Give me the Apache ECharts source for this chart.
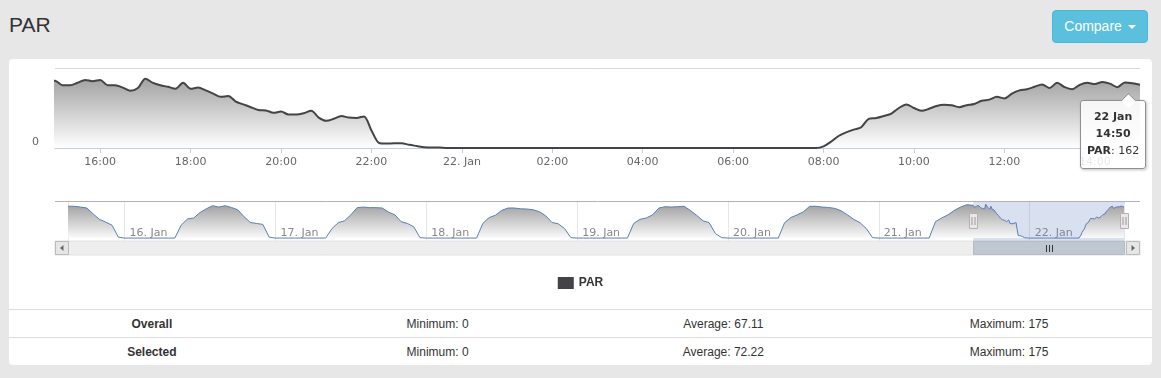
<!DOCTYPE html>
<html>
<head>
<meta charset="utf-8">
<script src="https://cdn.jsdelivr.net/npm/echarts@6/dist/echarts.min.js"></script>
<style>
  html, body { margin:0; padding:0; }
  body { width:1161px; height:378px; background:#e7e7e7; position:relative; overflow:hidden;
         font-family:"Liberation Sans", Arial, sans-serif; color:#333; }
  #title { position:absolute; left:9px; top:14px; font-size:21px; line-height:21px; color:#333; }
  #btn { position:absolute; left:1052px; top:10px; width:96px; height:33px; box-sizing:border-box;
         background:#5bc0de; border:1px solid #46b8da; border-radius:4px; color:#fff;
         font-size:14px; line-height:31px; text-align:center; }
  .caret { display:inline-block; width:0; height:0; vertical-align:middle; margin-left:2px;
           border-top:4px solid #fff; border-left:4px solid transparent; border-right:4px solid transparent; }
  #panel { position:absolute; left:9px; top:59px; width:1143px; height:306px; background:#fff; border-radius:4px; }
  #stats { position:absolute; left:0; top:250px; width:1143px; border-collapse:collapse; font-size:12px; color:#333; }
  #stats td { height:27px; border-top:1px solid #dddddd; text-align:center; width:25%; padding:0; }
  #stats td.lbl { font-weight:bold; }
  #chart { position:absolute; left:0; top:0; width:1161px; height:300px; }
</style>
</head>
<body>
<div id="title">PAR</div>
<div id="btn">Compare <span class="caret"></span></div>
<div id="panel"><table id="stats"></table></div>
<div id="chart"></div>
<script>
// ---------- data ----------
const monthNames = ['Jan','Feb','Mar','Apr','May','Jun','Jul','Aug','Sep','Oct','Nov','Dec'];
// navigator (hourly) values: 15 Jan 15:00 -> 21 Jan 14:00
const navStart = [2016, 0, 15, 15, 0];
const navStepMinutes = 60;
const navValues = [
  163,163,159,154,124,96,82,66,5,
  0,0,0,0,0,0,0,0,0,66,98,103,131,150,166,159,166,157,145,110,80,75,70,5,
  0,0,0,0,0,0,0,0,0,49,79,89,119,156,159,156,156,154,133,119,84,75,58,2,
  0,0,0,0,0,0,0,0,0,75,105,117,142,154,154,150,149,145,135,114,80,73,49,2,
  0,0,0,0,0,0,0,0,0,75,96,103,119,154,161,159,161,163,142,117,89,79,23,2,
  0,0,0,0,0,0,0,0,0,79,105,119,135,163,163,159,157,152,140,119,96,79,49,2,
  0,0,0,0,0,0,0,0,0,84,103,119,142,159,171
];
// detailed (10-minute) values: 21 Jan 15:00 -> 22 Jan 15:00
const detailStart = [2016, 0, 21, 15, 0];
const detailStepMinutes = 10;
const detailValues = [
  168,157,157,163,170,167,170,157,157,151,
  143,150,173,163,157,153,148,163,148,151,
  144,136,128,130,116,109,102,95,94,88,
  91,84,84,87,93,76,68,73,80,76,
  75,79,44,13,11,12,12,8,5,2,
  1,1,
  0,0,0,0,0,0,0,0,0,0, 0,0,0,0,0,0,0,0,0,0, 0,0,0,0,0,0,0,0,0,0,
  0,0,0,0,0,0,0,0,0,0, 0,0,0,0,0,0,0,0,0,0,
  4,16,30,39,46,52,73,75,
  80,86,100,109,100,93,98,105,108,107,
  102,107,110,118,121,128,124,136,144,147,
  153,159,150,163,152,147,158,163,160,165,
  161,152,164,162,158
];
const seriesName = 'PAR';
const yMax = 200;
const mainTickHours = 2;
const tooltipTime = [2016, 0, 22, 14, 50];
const statsRows = [
  ['Overall',  'Minimum: 0', 'Average: 67.11', 'Maximum: 175'],
  ['Selected', 'Minimum: 0', 'Average: 72.22', 'Maximum: 175']
];

// ---------- build ----------
function toTime(a) { return new Date(a[0], a[1], a[2], a[3], a[4]).getTime(); }
function pairs(start, stepMin, vals) {
  const t0 = toTime(start);
  return vals.map((v, i) => [t0 + i * stepMin * 60000, v]);
}
const allData = pairs(navStart, navStepMinutes, navValues)
  .concat(pairs(detailStart, detailStepMinutes, detailValues));
const windowStart = toTime(detailStart);
const windowEnd = allData[allData.length - 1][0];
const tipT = toTime(tooltipTime);
const tipIndex = allData.findIndex(d => d[0] === tipT);

// even-hour tick values inside the visible window
const mainTicks = [];
for (let t = windowStart; t <= windowEnd; t += 3600000) {
  const d = new Date(t);
  if (d.getMinutes() === 0 && d.getHours() % mainTickHours === 0 && t > windowStart && t < windowEnd) mainTicks.push(t);
}

const pad2 = n => (n < 10 ? '0' : '') + n;
function mainLabel(v) {
  const d = new Date(v);
  if (d.getHours() === 0 && d.getMinutes() === 0) return d.getDate() + '. ' + monthNames[d.getMonth()];
  return pad2(d.getHours()) + ':' + pad2(d.getMinutes());
}
function navLabel(v) {
  const d = new Date(v);
  return d.getDate() + '. ' + monthNames[d.getMonth()];
}

const tbl = document.getElementById('stats');
statsRows.forEach(r => {
  const tr = document.createElement('tr');
  r.forEach((c, i) => {
    const td = document.createElement('td');
    td.textContent = c;
    if (i === 0) td.className = 'lbl';
    tr.appendChild(td);
  });
  tbl.appendChild(tr);
});

const chart = echarts.init(document.getElementById('chart'), null, { renderer: 'canvas' });
const axisFont = 'DejaVu Sans';

const option = {
  animation: false,
  backgroundColor: 'transparent',
  grid: [
    { left: 55, right: 21, top: 68, height: 80, containLabel: false, outerBoundsMode: 'none' },
    { left: 68, right: 37, top: 201, height: 40, containLabel: false, outerBoundsMode: 'none' }
  ],
  xAxis: [
    {
      type: 'value', gridIndex: 0, min: windowStart, max: windowEnd,
      axisLine: { show: true, lineStyle: { color: '#c0d0e0', width: 1 } },
      axisTick: { show: true, length: 5, lineStyle: { color: '#c0d0e0' }, customValues: mainTicks },
      splitLine: { show: false },
      axisLabel: { color: '#666', fontSize: 11, fontFamily: axisFont, margin: 9,
                   formatter: mainLabel, customValues: mainTicks }
    },
    {
      type: 'time', gridIndex: 1, min: 'dataMin', max: 'dataMax',
      minInterval: 86400000, maxInterval: 86400000,
      axisLine: { show: false }, axisTick: { show: false },
      splitLine: { show: true, lineStyle: { color: '#e6e6e6', width: 1 } },
      axisLabel: { inside: true, align: 'left', margin: 2, padding: [0, 0, 0, 5],
                   color: '#888', fontSize: 11, fontFamily: axisFont, formatter: navLabel,
                   showMinLabel: false, showMaxLabel: false }
    }
  ],
  yAxis: [
    {
      type: 'value', gridIndex: 0, min: 0, max: yMax, interval: yMax,
      axisLine: { show: false }, axisTick: { show: false },
      splitLine: { show: true, lineStyle: { color: '#d8d8d8', width: 1 } },
      axisLabel: { color: '#666', fontSize: 11, fontFamily: axisFont, margin: 16,
                   verticalAlign: 'bottom', formatter: v => (v === 0 ? '0' : '') }
    },
    { type: 'value', gridIndex: 1, min: -15, max: 190, show: false }
  ],
  legend: {
    top: 272, left: 'center', icon: 'rect', itemWidth: 16, itemHeight: 12, itemGap: 10,
    data: [{ name: seriesName, icon: 'rect', itemStyle: { color: '#434348', borderWidth: 0 } }],
    textStyle: { color: '#333', fontSize: 12, fontWeight: 'bold', fontFamily: 'Liberation Sans' },
    selectedMode: false
  },
  tooltip: {
    trigger: 'axis', triggerOn: 'none', alwaysShowContent: true, transitionDuration: 0,
    axisPointer: { type: 'none' },
    backgroundColor: 'rgba(255,255,255,0.85)', borderColor: '#909090', borderWidth: 1,
    padding: [7, 6, 9, 6],
    textStyle: { fontFamily: axisFont, fontSize: 11, color: '#333' },
    extraCssText: 'box-shadow:1px 1px 3px rgba(0,0,0,0.25);border-radius:3px;text-align:center;line-height:17px;overflow:visible;',
    position: function (point, params, dom, rect, size) {
      const p = chart.convertToPixel({ seriesIndex: 0 }, params[0].value);
      return [p[0] - 52, p[1] + 17];
    },
    formatter: function (params) {
      const p = params[0];
      const d = new Date(p.value[0]);
      const arrow = '<div style="position:absolute;left:42px;top:-6px;width:10px;height:10px;background:#fff;' +
        'border-left:1px solid #909090;border-top:1px solid #909090;transform:rotate(45deg);"></div>';
      return arrow + '<b>' + d.getDate() + ' ' + monthNames[d.getMonth()] + '</b><br/>' +
        '<b>' + pad2(d.getHours()) + ':' + pad2(d.getMinutes()) + '</b><br/>' +
        '<b>' + p.seriesName + '</b>: ' + p.value[1];
    }
  },
  graphic: [
    { id: 'navOutline', type: 'line', shape: { x1: 55, y1: 201.5, x2: 1140, y2: 201.5 },
      style: { stroke: '#b2b1b6', lineWidth: 1 }, z: 5 },
    { id: 'track', type: 'rect', shape: { x: 55, y: 241, width: 1085, height: 14 },
      style: { fill: '#eeeeee', stroke: '#e2e2e2', lineWidth: 1 }, z: 1 },
    { id: 'btnL', type: 'rect', shape: { x: 55.5, y: 241.5, width: 13, height: 13 },
      style: { fill: '#e6e6e6', stroke: '#bbbbbb', lineWidth: 1 }, z: 6 },
    { id: 'arrL', type: 'polygon', shape: { points: [[63.5, 245], [63.5, 251], [60, 248]] },
      style: { fill: '#666' }, z: 7 },
    { id: 'btnR', type: 'rect', shape: { x: 1126.5, y: 241.5, width: 13, height: 13 },
      style: { fill: '#e6e6e6', stroke: '#bbbbbb', lineWidth: 1 }, z: 6 },
    { id: 'arrR', type: 'polygon', shape: { points: [[1131.5, 245], [1131.5, 251], [1135, 248]] },
      style: { fill: '#666' }, z: 7 }
  ],
  series: [
    {
      name: seriesName, type: 'line', xAxisIndex: 0, yAxisIndex: 0, data: allData,
      smooth: 0.3, symbol: 'none', showSymbol: false, clip: true,
      lineStyle: { color: '#434348', width: 2 },
      itemStyle: { color: '#434348' },
      areaStyle: { color: new echarts.graphic.LinearGradient(0, 68, 0, 148,
        [{ offset: 0, color: '#949494' }, { offset: 1, color: '#ffffff' }], true), opacity: 1 },
      emphasis: { disabled: true }
    },
    {
      name: 'navigator', type: 'line', xAxisIndex: 1, yAxisIndex: 1, data: allData,
      symbol: 'none', showSymbol: false, silent: true,
      lineStyle: { color: '#5a7fb8', width: 1 },
      itemStyle: { color: '#5a7fb8' },
      areaStyle: { color: new echarts.graphic.LinearGradient(0, 203, 0, 238,
        [{ offset: 0, color: '#9c9c9c' }, { offset: 1, color: '#fafafa' }], true), opacity: 1 },
      markArea: { silent: true, itemStyle: { color: 'rgba(102,133,194,0.25)' },
                  data: [[{ xAxis: windowStart }, { xAxis: windowEnd }]] },
      emphasis: { disabled: true }, tooltip: { show: false }
    }
  ]
};
chart.setOption(option);

// navigator handles and scrollbar thumb at the selected range
const x1 = Math.round(chart.convertToPixel({ xAxisIndex: 1 }, windowStart));
const x2 = Math.round(chart.convertToPixel({ xAxisIndex: 1 }, windowEnd));
const gc = Math.round((x1 + x2) / 2) + 0.5;
function handleParts(id, xc) {
  return [
    { id: id + 'box', type: 'rect', z: 30, shape: { x: xc - 3.5, y: 213.5, width: 8, height: 15 },
      style: { fill: '#ebe7e8', stroke: '#b2b1b6', lineWidth: 1 } },
    { id: id + 'l1', type: 'line', z: 31, shape: { x1: xc - 1, y1: 217, x2: xc - 1, y2: 225 },
      style: { stroke: '#999', lineWidth: 1 } },
    { id: id + 'l2', type: 'line', z: 31, shape: { x1: xc + 2, y1: 217, x2: xc + 2, y2: 225 },
      style: { stroke: '#999', lineWidth: 1 } }
  ];
}
chart.setOption({
  graphic: [
    { id: 'thumb', type: 'rect', shape: { x: x1 + 0.5, y: 241.5, width: x2 - x1, height: 13 },
      style: { fill: '#bfc8d1', stroke: '#b5bcc4', lineWidth: 1 }, z: 8 },
    { id: 'grip1', type: 'line', shape: { x1: gc - 3, y1: 245, x2: gc - 3, y2: 252 }, style: { stroke: '#333', lineWidth: 1 }, z: 20 },
    { id: 'grip2', type: 'line', shape: { x1: gc, y1: 245, x2: gc, y2: 252 }, style: { stroke: '#333', lineWidth: 1 }, z: 20 },
    { id: 'grip3', type: 'line', shape: { x1: gc + 3, y1: 245, x2: gc + 3, y2: 252 }, style: { stroke: '#333', lineWidth: 1 }, z: 20 }
  ].concat(handleParts('hL', x1), handleParts('hR', x2))
});

chart.dispatchAction({ type: 'showTip', seriesIndex: 0, dataIndex: tipIndex });
</script>
</body>
</html>
